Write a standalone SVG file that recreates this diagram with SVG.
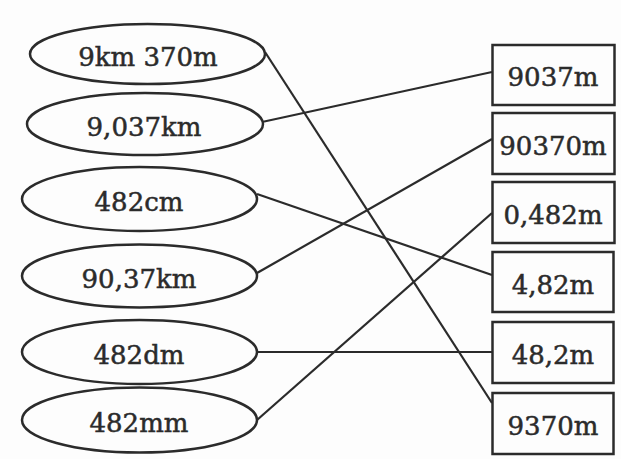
<svg xmlns="http://www.w3.org/2000/svg" width="621" height="459" viewBox="0 0 621 459">
  <style>
    .shape { fill: none; stroke: #2b2b2b; stroke-width: 2.5; }
    .link { stroke: #2b2b2b; stroke-width: 2.2; fill: none; }
    text { font-family: "DejaVu Serif", "Liberation Serif", serif; font-size: 26px; fill: #2b2b2b; stroke: #2b2b2b; stroke-width: 0.5; text-anchor: middle; }
  </style>
  <rect x="0" y="0" width="621" height="459" fill="#fdfdfd"/>

  <!-- connectors -->
  <g id="connectors">
    <line class="link" x1="265" y1="52" x2="492" y2="403"/>
    <line class="link" x1="262" y1="122" x2="492" y2="72"/>
    <line class="link" x1="257" y1="194" x2="492" y2="275"/>
    <line class="link" x1="257" y1="273" x2="492" y2="139"/>
    <line class="link" x1="257" y1="352" x2="492" y2="352"/>
    <line class="link" x1="257" y1="420" x2="492" y2="213"/>
  </g>

  <!-- left column: ellipses -->
  <g id="e1"><ellipse class="shape" cx="147.5" cy="54" rx="117.5" ry="30"/><text x="148" y="66">9km 370m</text></g>
  <g id="e2"><ellipse class="shape" cx="145" cy="124" rx="118" ry="31"/><text x="144" y="136">9,037km</text></g>
  <g id="e3"><ellipse class="shape" cx="139.5" cy="199" rx="117.5" ry="32"/><text x="139" y="211">482cm</text></g>
  <g id="e4"><ellipse class="shape" cx="139.5" cy="276" rx="117.5" ry="31.5"/><text x="139" y="288">90,37km</text></g>
  <g id="e5"><ellipse class="shape" cx="139.5" cy="352" rx="117.5" ry="32"/><text x="139" y="364">482dm</text></g>
  <g id="e6"><ellipse class="shape" cx="139.5" cy="420" rx="117.5" ry="32.5"/><text x="139" y="432">482mm</text></g>

  <!-- right column: boxes -->
  <g id="r1"><rect class="shape" x="492.5" y="45" width="122" height="60"/><text x="553" y="86">9037m</text></g>
  <g id="r2"><rect class="shape" x="492.5" y="113" width="122" height="61"/><text x="553" y="155">90370m</text></g>
  <g id="r3"><rect class="shape" x="492.5" y="182" width="122" height="61"/><text x="553" y="224">0,482m</text></g>
  <g id="r4"><rect class="shape" x="492.5" y="252" width="121" height="60"/><text x="553" y="294">4,82m</text></g>
  <g id="r5"><rect class="shape" x="492.5" y="322" width="121" height="61"/><text x="553" y="364">48,2m</text></g>
  <g id="r6"><rect class="shape" x="492.5" y="393" width="121" height="61"/><text x="553" y="435">9370m</text></g>
</svg>
